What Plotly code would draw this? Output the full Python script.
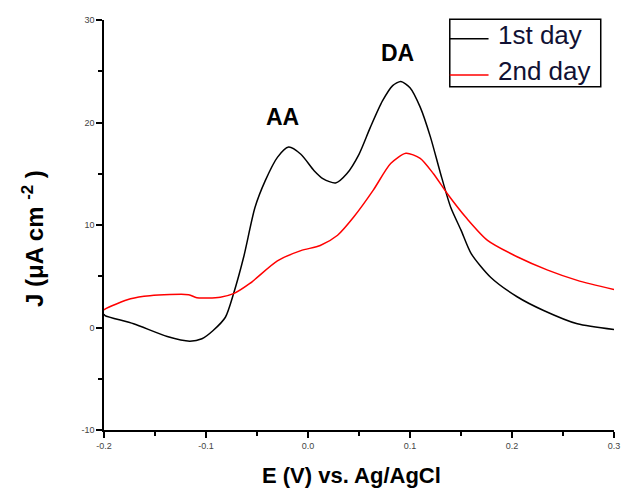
import plotly.graph_objects as go

# 1st day (black)
e1 = [-0.200, -0.199, -0.171, -0.138, -0.116, -0.104, -0.093, -0.081, -0.073, -0.063, -0.052,
      -0.042, -0.030, -0.019, -0.007, 0.006, 0.015, 0.027, 0.038, 0.050, 0.061, 0.073,
      0.083, 0.091, 0.100, 0.110, 0.120, 0.130, 0.140, 0.150, 0.160, 0.179, 0.205,
      0.231, 0.264, 0.300]
j1 = [1.3, 1.17, 0.36, -0.88, -1.33, -1.1, -0.29, 1.0, 3.3, 6.9, 11.7,
      14.3, 16.6, 17.6, 16.9, 15.3, 14.5, 14.1, 15.0, 16.9, 19.5, 22.1,
      23.6, 24.0, 23.4, 21.5, 18.6, 15.0, 11.7, 9.5, 7.2, 4.9, 3.0,
      1.66, 0.36, -0.2]

# 2nd day (red)
e2 = [-0.200, -0.199, -0.174, -0.155, -0.117, -0.109, -0.086, -0.073, -0.057, -0.030, -0.007,
      0.012, 0.029, 0.045, 0.064, 0.081, 0.096, 0.110, 0.123, 0.137, 0.156, 0.176,
      0.205, 0.235, 0.264, 0.300]
j2 = [1.7, 1.8, 2.8, 3.1, 3.2, 2.9, 2.96, 3.3, 4.3, 6.5, 7.5,
      8.0, 9.0, 10.8, 13.4, 16.0, 17.0, 16.5, 15.0, 13.0, 10.6, 8.5,
      6.9, 5.6, 4.6, 3.7]

series_names = ["1st day", "2nd day"]
series_colors = ["black", "#ff0000"]

x_ticks = [-0.2, -0.1, 0.0, 0.1, 0.2, 0.3]
x_ticklabels = ["-0.2", "-0.1", "0.0", "0.1", "0.2", "0.3"]
y_ticks = [-10, 0, 10, 20, 30]
y_ticklabels = ["-10", "0", "10", "20", "30"]

fig = go.Figure()
for (xs, ys), name, col in zip([(e1, j1), (e2, j2)], series_names, series_colors):
    fig.add_trace(go.Scatter(x=xs, y=ys, mode="lines", name=name, showlegend=False,
                             line=dict(color=col, width=1.5, shape="spline", smoothing=0.7)))

tickfont = dict(family="Liberation Sans, Arial", size=9, color="#444")
fig.update_xaxes(range=[-0.2, 0.3], tickvals=x_ticks, ticktext=x_ticklabels,
                 showgrid=False, zeroline=False, showline=True, linecolor="black",
                 linewidth=1.5, ticks="outside", ticklen=6, tickwidth=1.5, tickcolor="black",
                 tickfont=tickfont, automargin=False,
                 minor=dict(dtick=0.05, ticks="outside", ticklen=4, tickwidth=1.5, tickcolor="black"))
fig.update_yaxes(range=[-10, 30], tickvals=y_ticks, ticktext=y_ticklabels,
                 showgrid=False, zeroline=False, showline=True, linecolor="black",
                 linewidth=1.5, ticks="outside", ticklen=6, tickwidth=1.5, tickcolor="black",
                 tickfont=tickfont, automargin=False,
                 minor=dict(dtick=5, ticks="outside", ticklen=4, tickwidth=1.5, tickcolor="black"))

# legend box drawn in paper coordinates
leg_x0, leg_x1, leg_y0, leg_y1 = 0.678, 0.974, 0.837, 1.002
line_x1 = 0.754
row_y_line = [0.954, 0.866]
row_y_text = [0.963, 0.876]
shapes = [dict(type="rect", xref="paper", yref="paper", x0=leg_x0, x1=leg_x1, y0=leg_y0, y1=leg_y1,
               line=dict(color="black", width=1.5), fillcolor="white", layer="above")]
annotations = []
for name, col, yl, yt in zip(series_names, series_colors, row_y_line, row_y_text):
    shapes.append(dict(type="line", xref="paper", yref="paper", x0=leg_x0, x1=line_x1, y0=yl, y1=yl,
                       line=dict(color=col, width=1.5), layer="above"))
    annotations.append(dict(text=name, xref="paper", yref="paper", x=0.768, y=yt,
                            xanchor="left", yanchor="middle", showarrow=False,
                            font=dict(size=26, color="#111133")))

annotations += [
    dict(text="<b>E (V) vs. Ag/AgCl</b>", xref="paper", yref="paper",
         x=0.485, y=0, yshift=-45, xanchor="center", yanchor="middle",
         showarrow=False, font=dict(size=22)),
    dict(text="<b>J (μA cm <sup>-2</sup> )</b>", xref="paper", yref="paper",
         x=0, xshift=-71, y=0.466, xanchor="center", yanchor="middle",
         textangle=-90, showarrow=False, font=dict(size=24)),
    dict(text="<b>AA</b>", x=-0.025, y=20.5, xref="x", yref="y",
         showarrow=False, font=dict(size=23)),
    dict(text="<b>DA</b>", x=0.088, y=26.8, xref="x", yref="y",
         showarrow=False, font=dict(size=23)),
]

fig.update_layout(
    width=625, height=492,
    margin=dict(l=104, r=11, t=20, b=62),
    paper_bgcolor="white", plot_bgcolor="white",
    font=dict(family="Liberation Sans, Arial", color="black"),
    showlegend=False,
    shapes=shapes,
    annotations=annotations,
)

fig.write_html("out.html")
